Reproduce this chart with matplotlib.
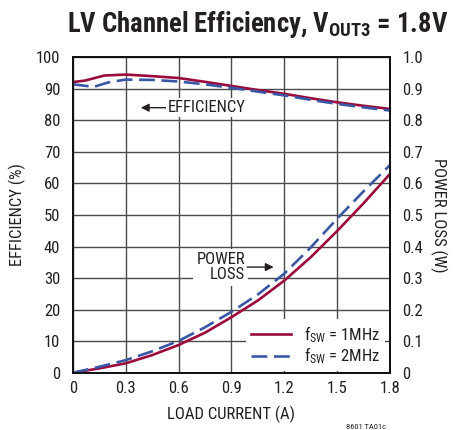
import numpy as np
import matplotlib
matplotlib.use("Agg")
import matplotlib.pyplot as plt
from matplotlib import font_manager

# pick a narrow sans if one is installed, otherwise plain Liberation Sans
names = {f.name for f in font_manager.fontManager.ttflist}
narrow = "Liberation Sans"
for cand in ["Roboto Condensed", "Liberation Sans Narrow", "Liberation Sans"]:
    if cand in names:
        narrow = cand
        break
plt.rcParams["font.family"] = [narrow, "DejaVu Sans"]
is_narrow = narrow != "Liberation Sans"

# efficiency (%), left axis
eff_x_1mhz = [0, 0.07, 0.18, 0.3, 0.45, 0.6, 0.75, 0.9, 1.05, 1.2, 1.35, 1.5, 1.65, 1.8]
eff_1mhz = [92.1, 92.6, 94.2, 94.5, 94.0, 93.4, 92.2, 90.9, 89.6, 88.4, 87.0, 85.7, 84.6, 83.6]
eff_x_2mhz = [0, 0.12, 0.2, 0.3, 0.45, 0.6, 0.75, 0.9, 1.05, 1.2, 1.35, 1.5, 1.65, 1.8]
eff_2mhz = [91.4, 90.6, 92.0, 92.9, 92.8, 92.3, 91.4, 90.3, 89.1, 87.9, 86.5, 85.2, 84.1, 83.1]

# power loss (W), right axis
loss_x = [0, 0.15, 0.3, 0.45, 0.6, 0.75, 0.9, 1.05, 1.2, 1.35, 1.5, 1.65, 1.8]
loss_1mhz = [0, 0.014, 0.030, 0.056, 0.088, 0.127, 0.176, 0.229, 0.292, 0.366, 0.449, 0.537, 0.63]
loss_2mhz = [0, 0.019, 0.040, 0.068, 0.101, 0.144, 0.193, 0.248, 0.314, 0.397, 0.488, 0.575, 0.658]

x_ticks = [0, 0.3, 0.6, 0.9, 1.2, 1.5, 1.8]
x_labels = ["0", "0.3", "0.6", "0.9", "1.2", "1.5", "1.8"]
left_ticks = [0, 10, 20, 30, 40, 50, 60, 70, 80, 90, 100]
right_ticks = [0, 0.1, 0.2, 0.3, 0.4, 0.5, 0.6, 0.7, 0.8, 0.9, 1.0]
right_labels = ["0", "0.1", "0.2", "0.3", "0.4", "0.5", "0.6", "0.7", "0.8", "0.9", "1.0"]

red = "#9a0b3b"
blue = "#3a57a6"
grid_c = "#4a4a4a"
txt_c = "#231f20"

fs = 12 if is_narrow else 10.5
tick_fs = 12 if is_narrow else 11
title_fs = 19.2 if is_narrow else 15.5

fig = plt.figure(figsize=(4.55, 4.30), dpi=100)
ax = fig.add_axes([0.160, 0.133, 0.697, 0.734])
ax2 = ax.twinx()

ax.plot(eff_x_1mhz, eff_1mhz, color=red, lw=1.9, zorder=3)
ax.plot(eff_x_2mhz, eff_2mhz, color=blue, lw=1.9, dashes=(6, 2.5), zorder=3)

l1, = ax2.plot(loss_x, loss_1mhz, color=red, lw=1.9, label=r"$\mathregular{f_{SW}}$ = 1MHz")
l2, = ax2.plot(loss_x, loss_2mhz, color=blue, lw=1.9, dashes=(6, 2.5), label=r"$\mathregular{f_{SW}}$ = 2MHz")

ax.set_xlim(0, 1.8)
ax.set_ylim(0, 100)
ax2.set_ylim(0, 1.0)
ax.set_xticks(x_ticks)
ax.set_xticklabels(x_labels)
ax.set_yticks(left_ticks)
ax2.set_yticks(right_ticks)
ax2.set_yticklabels(right_labels)

ax.grid(True, color=grid_c, lw=1.0)
ax.set_axisbelow(True)
for a in (ax, ax2):
    a.tick_params(length=0, labelsize=tick_fs, labelcolor=txt_c)
    for s in a.spines.values():
        s.set_linewidth(1.3)
        s.set_color("#111111")
ax.tick_params(axis="y", pad=9)
ax.tick_params(axis="x", pad=6)
ax2.tick_params(axis="y", pad=9)

ax.set_xlabel("LOAD CURRENT (A)", fontsize=fs, color=txt_c, labelpad=7)
ax.set_ylabel("EFFICIENCY (%)", fontsize=fs, color=txt_c, labelpad=7)
ax2.set_ylabel("POWER LOSS (W)", fontsize=fs, color=txt_c, rotation=-90, labelpad=17)

# annotations
ax.annotate("", xy=(0.386, 84), xytext=(0.535, 84),
            arrowprops=dict(arrowstyle="-|>", color=txt_c, lw=1.0, mutation_scale=12,
                            shrinkA=0, shrinkB=0), zorder=4)
ax.text(0.54, 84, "EFFICIENCY", fontsize=fs, color=txt_c, ha="left", va="center",
        bbox=dict(facecolor="white", edgecolor="none", pad=1.5), zorder=4)

ax.text(0.977, 33.4, "POWER\nLOSS", fontsize=fs, color=txt_c, ha="right", va="center",
        multialignment="right", linespacing=1.0,
        bbox=dict(facecolor="white", edgecolor="none", pad=2.5), zorder=4)
ax.annotate("", xy=(1.14, 33.5), xytext=(0.99, 33.5),
            arrowprops=dict(arrowstyle="-|>", color=txt_c, lw=1.0, mutation_scale=12,
                            shrinkA=0, shrinkB=0), zorder=4)

leg = ax2.legend(handles=[l1, l2], loc="lower right", bbox_to_anchor=(0.995, -0.005),
                 fontsize=fs, frameon=True, fancybox=False, handlelength=2.4,
                 handletextpad=0.8, borderpad=0.3, labelspacing=0.05, borderaxespad=0.2)
leg.get_frame().set_facecolor("white")
leg.get_frame().set_edgecolor("none")
leg.get_frame().set_alpha(1)
for t in leg.get_texts():
    t.set_color(txt_c)

fig.text(0.567, 0.942, r"LV Channel Efficiency, $\mathregular{V_{OUT3}}$ = 1.8V",
         fontsize=title_fs, fontweight="bold", color=txt_c, ha="center", va="center")
fig.text(0.805, 0.006, "8601 TA01c", fontsize=6, color=txt_c, ha="center", va="center")

fig.savefig("out.png", dpi=100)
